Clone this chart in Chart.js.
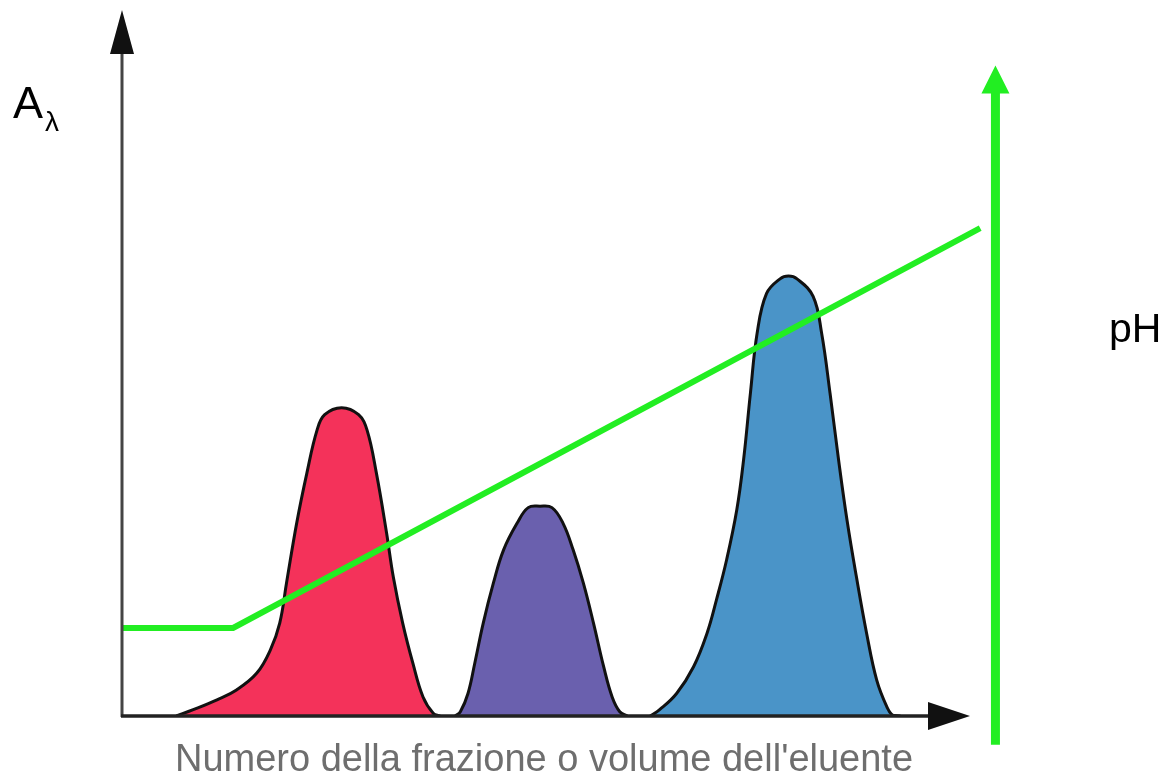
<!DOCTYPE html>
<html lang="it">
<head>
    <meta charset="UTF-8">
    <title>Cromatografia a scambio ionico</title>
    <script src="https://cdn.jsdelivr.net/npm/chart.js@4.4.1/dist/chart.umd.min.js"></script>
    <style>
        body { margin: 0; background: #ffffff; overflow: hidden; }
        #wrap { width: 1166px; height: 778px; }
    </style>
</head>
<body>
    <div id="wrap">
        <canvas id="elutionChart" width="1166" height="778"></canvas>
    </div>

    <script>
        // fraction number / eluent volume (x) and absorbance (y)
        const redX    = [6.4, 8.4, 11.2, 13.5, 15.9, 17.5, 18.6, 19.4, 20.6, 21.8, 23.0, 23.9, 25.9, 27.9, 28.9, 30.0, 31.2, 32.0, 33.1, 34.3, 35.5, 36.7, 37.5];
        const redY    = [0, 0.9, 2.3, 3.7, 6.1, 9.4, 13.2, 18.9, 27.4, 34.5, 40.6, 42.8, 43.8, 42.8, 40.6, 34.5, 26.0, 19.7, 13.2, 7.5, 2.7, 0.4, 0];

        const purpleX = [39.3, 39.9, 40.8, 41.6, 42.6, 43.8, 45.0, 46.6, 47.9, 49.3, 50.7, 52.0, 53.2, 54.4, 55.6, 56.8, 57.8, 58.7, 59.6];
        const purpleY = [0, 0.6, 3.2, 7.5, 13.2, 18.9, 23.6, 27.4, 29.6, 29.8, 29.6, 27.4, 23.6, 18.9, 13.2, 7.0, 2.7, 0.6, 0];

        const blueX   = [62.3, 63.4, 65.4, 67.4, 69.0, 70.1, 71.3, 72.5, 73.3, 74.1, 74.9, 76.0, 77.6, 78.6, 79.6, 81.5, 82.5, 83.5, 84.5, 85.5, 86.6, 87.8, 89.0, 90.2, 90.9, 91.8];
        const blueY   = [0, 0.9, 3.2, 7.0, 11.8, 16.5, 22.2, 29.3, 36.4, 45.8, 54.4, 60.0, 62.1, 62.5, 62.1, 59.6, 54.4, 45.8, 36.4, 27.8, 19.8, 11.8, 5.1, 1.3, 0.1, 0];

        // pH gradient: constant, then linear
        const phX     = [0, 13.1, 101.2];
        const phY     = [12.5, 12.5, 69.3];

        const axisLabelX = 'Numero della frazione o volume dell\'eluente';
        const axisLabelY = 'A';
        const axisLabelYSub = 'λ';
        const axisLabelPH = 'pH';

        function toPoints(xs, ys) {
            return xs.map(function (x, i) { return { x: x, y: ys[i] }; });
        }

        function peak(xs, ys, colour) {
            return {
                data: toPoints(xs, ys),
                backgroundColor: colour,
                borderColor: '#111111',
                borderWidth: 3,
                fill: 'origin',
                tension: 0.4,
                pointRadius: 0,
                order: 1
            };
        }

        // axes with arrow heads, the pH arrow and the labels
        const decorations = {
            id: 'decorations',
            afterDatasetsDraw: function (chart) {
                const ctx = chart.ctx;
                const xs = chart.scales.x;
                const ys = chart.scales.y;
                const x0 = xs.getPixelForValue(0);
                const y0 = ys.getPixelForValue(0);
                const xEnd = xs.getPixelForValue(100);
                const yEnd = ys.getPixelForValue(100);

                ctx.save();
                // y axis
                ctx.strokeStyle = '#444444';
                ctx.lineWidth = 3;
                ctx.beginPath();
                ctx.moveTo(x0, y0 + 1);
                ctx.lineTo(x0, yEnd + 40);
                ctx.stroke();
                ctx.fillStyle = '#111111';
                ctx.beginPath();
                ctx.moveTo(x0, yEnd - 2);
                ctx.lineTo(x0 - 12, yEnd + 42);
                ctx.lineTo(x0 + 12, yEnd + 42);
                ctx.closePath();
                ctx.fill();

                // x axis
                ctx.strokeStyle = '#222222';
                ctx.lineWidth = 3.5;
                ctx.beginPath();
                ctx.moveTo(x0 - 1, y0);
                ctx.lineTo(xEnd - 38, y0);
                ctx.stroke();
                ctx.fillStyle = '#111111';
                ctx.beginPath();
                ctx.moveTo(xEnd, y0);
                ctx.lineTo(xEnd - 42, y0 - 14);
                ctx.lineTo(xEnd - 42, y0 + 14);
                ctx.closePath();
                ctx.fill();

                // pH axis (green arrow)
                const px = xs.getPixelForValue(103);
                const pBottom = ys.getPixelForValue(-4.1);
                const pTop = ys.getPixelForValue(92.4);
                ctx.strokeStyle = '#22ee22';
                ctx.fillStyle = '#22ee22';
                ctx.lineWidth = 9;
                ctx.beginPath();
                ctx.moveTo(px, pBottom);
                ctx.lineTo(px, pTop + 24);
                ctx.stroke();
                ctx.beginPath();
                ctx.moveTo(px, pTop);
                ctx.lineTo(px - 14, pTop + 28);
                ctx.lineTo(px + 14, pTop + 28);
                ctx.closePath();
                ctx.fill();

                // labels
                ctx.fillStyle = '#000000';
                ctx.textBaseline = 'alphabetic';
                ctx.textAlign = 'left';
                ctx.font = '45px "Liberation Sans", Arial, sans-serif';
                ctx.fillText(axisLabelY, 13, 118);
                const aw = ctx.measureText(axisLabelY).width;
                ctx.font = '28px "Liberation Sans", Arial, sans-serif';
                ctx.fillText(axisLabelYSub, 13 + aw + 2, 131);

                ctx.font = '41px "Liberation Sans", Arial, sans-serif';
                ctx.fillText(axisLabelPH, 1109, 342);

                ctx.fillStyle = '#6e6e6e';
                ctx.font = '38px "Liberation Sans", Arial, sans-serif';
                ctx.textAlign = 'center';
                ctx.fillText(axisLabelX, 544, 771);
                ctx.restore();
            }
        };

        const chart = new Chart(document.getElementById('elutionChart'), {
            type: 'line',
            data: {
                datasets: [
                    {
                        data: toPoints(phX, phY),
                        borderColor: '#22ee22',
                        borderWidth: 6,
                        fill: false,
                        tension: 0,
                        pointRadius: 0,
                        clip: false,
                        order: 0
                    },
                    peak(redX, redY, '#f4325a'),
                    peak(purpleX, purpleY, '#6a60ae'),
                    peak(blueX, blueY, '#4a94c8')
                ]
            },
            options: {
                responsive: false,
                devicePixelRatio: 1,
                animation: false,
                layout: { padding: { left: 122, right: 196, top: 12, bottom: 62 } },
                plugins: {
                    legend: { display: false },
                    tooltip: { enabled: false }
                },
                scales: {
                    x: { type: 'linear', min: 0, max: 100, display: false },
                    y: { type: 'linear', min: 0, max: 100, display: false }
                }
            },
            plugins: [decorations]
        });
    </script>
</body>
</html>
